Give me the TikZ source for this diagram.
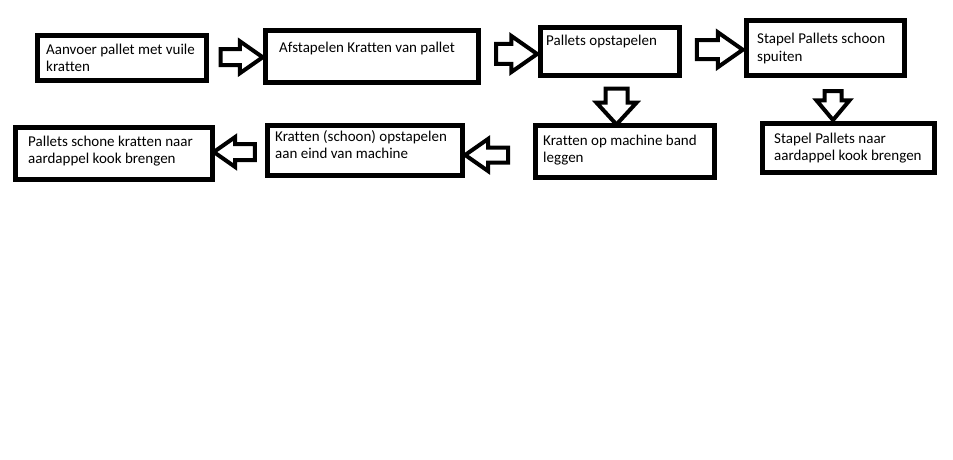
\documentclass[tikz,border=0pt]{standalone}
\usepackage{fontspec}
\setmainfont{Carlito}[Ligatures=CommonOff]
\usetikzlibrary{shapes.arrows, positioning, calc}

\begin{document}
\begin{tikzpicture}[x=1pt, y=-1pt,
  box/.style={draw, line width=5pt, inner sep=0pt},
  txt/.style={anchor=base west, align=left, inner sep=0pt, font=\fontsize{15}{17.5}\selectfont},
  blk/.style={single arrow, draw, line width=4pt, fill=white, inner xsep=0pt, inner ysep=6pt,
    minimum height=42pt, single arrow head extend=8pt, single arrow tip angle=70}]
  % page frame
  \useasboundingbox (0,0) rectangle (953,460);

  % Boxes, top row
  \node[box, minimum width=169pt, minimum height=45pt] (b1) at (122,58) {};
  \node[box, minimum width=213pt, minimum height=52pt] (b2) at (372,56.5) {};
  \node[box, minimum width=139pt, minimum height=48pt] (b3) at (610,51.5) {};
  \node[box, minimum width=158pt, minimum height=55pt] (b4) at (825.5,48) {};

  % Boxes, bottom row
  \node[box, minimum width=179pt, minimum height=52pt] (b5) at (625,151.5) {};
  \node[box, minimum width=172pt, minimum height=49pt] (b6) at (848.5,148) {};
  \node[box, minimum width=195pt, minimum height=50pt] (b7) at (365,150.5) {};
  \node[box, minimum width=197pt, minimum height=52pt] (b8) at (114,153.5) {};

  % Texts, placed by the baseline of their last line
  \node[txt] (t1) at (46,72) {Aanvoer pallet met vuile\\kratten};
  \node[txt] (t2) at (279,52.5) {Afstapelen Kratten van pallet};
  \node[txt] (t3) at (546,46) {Pallets opstapelen};
  \node[txt] (t4) at (757,61.5) {Stapel Pallets schoon\\spuiten};
  \node[txt] (t5) at (543,162.5) {Kratten op machine band\\leggen};
  \node[txt] (t6) at (774,160.5) {Stapel Pallets naar\\aardappel kook brengen};
  \node[txt] (t7) at (275,158.5) {Kratten (schoon) opstapelen\\aan eind van machine};
  \node[txt] (t8) at (28,163.5) {Pallets schone kratten naar\\aardappel kook brengen};

  % Block arrows between the boxes
  \node[blk] (a1) at ($(b1.east)!0.5!(b2.west)$) {};
  \node[blk, inner ysep=8pt, minimum height=41pt] (a2) at ($(b2.east)!0.5!(b3.west)$) {};
  \node[blk, inner ysep=7.5pt, minimum height=46pt] (a3) at ($(b3.east)!0.5!(b4.west)$) {};
  \node[blk, rotate=-90, inner ysep=9pt, single arrow head extend=9pt, minimum height=36pt,
    single arrow tip angle=85] (a4) at ($(b3.south)!0.5!(b5.north)+(-1,0)$) {};
  \node[blk, rotate=-90, inner ysep=6.5pt, minimum height=29pt,
    single arrow tip angle=80] (a5) at ($(b4.south)!0.5!(b6.north)+(-4,1)$) {};
  \node[blk, rotate=180, inner ysep=5.5pt, single arrow head extend=8.5pt, minimum height=43pt]
    (a6) at ($(b5.west)!0.5!(b7.east)+(-7,4)$) {};
  \node[blk, rotate=180, single arrow head extend=7pt, minimum height=41pt]
    (a7) at ($(b7.west)!0.5!(b8.east)$) {};
\end{tikzpicture}
\end{document}
